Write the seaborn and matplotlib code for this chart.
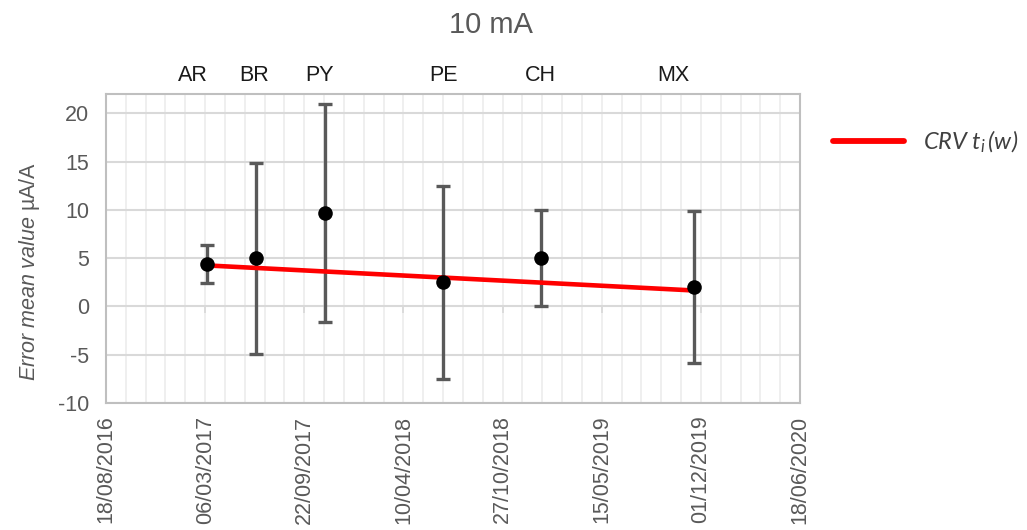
import numpy as np
import pandas as pd
import matplotlib
matplotlib.use("Agg")
import matplotlib.pyplot as plt
import matplotlib.dates as mdates
import seaborn as sns

# Measurement campaigns: site code, date, mean error and its uncertainty (µA/A)
sites = ["AR", "BR", "PY", "PE", "CH", "MX"]
dates = ["2017-03-09", "2017-06-16", "2017-11-02", "2018-06-29", "2019-01-12", "2019-11-18"]
mean_err = [4.4, 5.0, 9.7, 2.5, 5.0, 2.0]
uncert = [2.0, 9.9, 11.3, 10.0, 5.0, 7.9]

# Reference value drift line (CRV)
trend_dates = ["2017-03-09", "2019-11-18"]
trend_vals = [4.25, 1.65]

# Axis ranges
x_start, x_end = "2016-08-18", "2020-06-18"
y_ticks = [-10, -5, 0, 5, 10, 15, 20]

df = pd.DataFrame({"site": sites, "date": pd.to_datetime(dates),
                   "err": mean_err, "unc": uncert})
trend = pd.DataFrame({"date": pd.to_datetime(trend_dates), "crv": trend_vals})

sns.set_theme(style="white")
plt.rcParams["font.family"] = ["Liberation Sans", "DejaVu Sans"]
plt.rcParams["axes.unicode_minus"] = False
plt.rcParams["mathtext.fontset"] = "custom"
plt.rcParams["mathtext.sf"] = "Liberation Sans:italic"
plt.rcParams["mathtext.it"] = "Lato:italic"
plt.rcParams["mathtext.rm"] = "Lato"

grey_txt = "#595959"

fig = plt.figure(figsize=(10.27, 5.30), dpi=100)
ax = fig.add_axes([0.10321, 0.23962, 0.67575, 0.58302])

# grid
major = pd.date_range(x_start, x_end, freq="200D")
minor = pd.date_range(x_start, x_end, freq="40D")
ax.set_xlim(pd.Timestamp(x_start), pd.Timestamp(x_end))
ax.set_ylim(-10, 22)
ax.set_xticks(major)
ax.set_xticks(minor, minor=True)
ax.set_yticks(y_ticks)
ax.xaxis.set_major_formatter(mdates.DateFormatter("%d/%m/%Y"))
ax.set_axisbelow(True)
ax.grid(axis="x", which="both", color="#eeeeee", lw=1.3)
ax.grid(axis="y", which="major", color="#d9d9d9", lw=1.5)

# small tick marks on the zero line
ax.plot(major, np.zeros(len(major)), ls="none", marker=3, ms=5,
        mew=1.3, color="#d9d9d9", zorder=1.5, clip_on=False)

# error bars
ax.errorbar(df["date"], df["err"], yerr=df["unc"], fmt="none",
            ecolor="#595959", elinewidth=2.4, capsize=4.8, capthick=2.4, zorder=2)

# CRV line
sns.lineplot(data=trend, x="date", y="crv", ax=ax, color="#ff0000", lw=3.3,
             label=r"CRV $t_i\,$(w)", zorder=3)

# mean values
sns.scatterplot(data=df, x="date", y="err", ax=ax, color="black", s=110,
                edgecolor="black", linewidth=0, zorder=4)

# site labels above the plot area
label_shift_px = [-14, -2, -5, 0, 0, -21]
for site, d, dx in zip(df["site"], df["date"], label_shift_px):
    ax.annotate(site, xy=(d, 1), xycoords=("data", "axes fraction"),
                xytext=(dx, 19), textcoords="offset pixels",
                ha="center", va="center", fontsize=15.5, color="#1a1a1a")

for s in ax.spines.values():
    s.set_color("#bfbfbf")
    s.set_linewidth(1.5)

ax.tick_params(axis="x", which="both", length=0, pad=9, labelsize=15.5,
               labelcolor=grey_txt, labelrotation=90)
ax.tick_params(axis="y", length=0, pad=12, labelsize=15.5, labelcolor=grey_txt)
for lab in ax.get_xticklabels():
    lab.set_ha("center")
    lab.set_va("top")

ax.set_xlabel("")
ax.set_ylabel(r"$\mathsf{Error\ mean\ value}$ µA/A", fontsize=15.5, color=grey_txt)
ax.yaxis.set_label_coords(-0.092, 0.427)

fig.text(491 / 1027, 1 - 25 / 530, "10 mA", ha="center", va="center",
         fontsize=21, color=grey_txt)

leg = ax.legend(loc="center left", bbox_to_anchor=(833 / 1027, 1 - 142 / 530),
                bbox_transform=fig.transFigure, frameon=False, borderpad=0,
                borderaxespad=0, handlelength=3.0, handletextpad=0.8,
                prop=dict(family="Lato", style="italic", size=17))
for t in leg.get_texts():
    t.set_color("#404040")
for h in leg.get_lines():
    h.set_linewidth(4.2)

fig.savefig("out.png", dpi=100)
